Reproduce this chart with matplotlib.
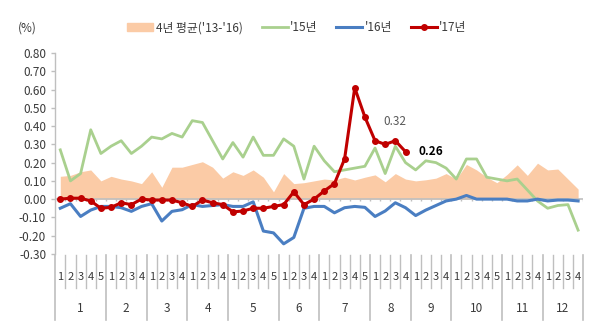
import matplotlib
matplotlib.use("Agg")
import matplotlib.pyplot as plt
from matplotlib.patches import Patch
from matplotlib.lines import Line2D
import numpy as np

plt.rcParams['font.family'] = ['Noto Sans CJK KR', 'DejaVu Sans']

months = ['1', '2', '3', '4', '5', '6', '7', '8', '9', '10', '11', '12']
weeks_per_month = [5, 4, 4, 4, 5, 4, 5, 4, 4, 5, 4, 4]
y_ticks = [0.80, 0.70, 0.60, 0.50, 0.40, 0.30, 0.20, 0.10, 0.00, -0.10, -0.20, -0.30]

avg_4yr = [0.125, 0.13, 0.15, 0.16, 0.10, 0.125, 0.11, 0.10, 0.085, 0.15, 0.065, 0.175, 0.175,
           0.19, 0.205, 0.175, 0.115, 0.15, 0.13, 0.16, 0.12, 0.04, 0.14, 0.085, 0.09, 0.10,
           0.11, 0.105, 0.12, 0.105, 0.12, 0.133, 0.095, 0.14, 0.11, 0.10, 0.106, 0.115, 0.14,
           0.11, 0.19, 0.16, 0.12, 0.09, 0.135, 0.188, 0.13, 0.197, 0.16, 0.165, 0.11, 0.055]
y15 = [0.27, 0.10, 0.14, 0.38, 0.25, 0.29, 0.32, 0.25, 0.29, 0.34, 0.33, 0.36, 0.34,
       0.43, 0.42, 0.32, 0.22, 0.31, 0.23, 0.34, 0.24, 0.24, 0.33, 0.29, 0.11, 0.29,
       0.21, 0.15, 0.16, 0.17, 0.18, 0.28, 0.14, 0.29, 0.20, 0.16, 0.21, 0.20, 0.17,
       0.11, 0.22, 0.22, 0.12, 0.11, 0.10, 0.11, 0.05, -0.01, -0.05, -0.035, -0.03, -0.17]
y16 = [-0.05, -0.025, -0.095, -0.06, -0.04, -0.04, -0.047, -0.067, -0.04, -0.025, -0.12, -0.067, -0.058,
       -0.03, -0.04, -0.035, -0.03, -0.04, -0.04, -0.015, -0.175, -0.185, -0.245, -0.21, -0.05, -0.04,
       -0.04, -0.075, -0.047, -0.04, -0.045, -0.095, -0.065, -0.02, -0.047, -0.09, -0.06, -0.035, -0.01,
       0.0, 0.02, 0.0, 0.0, 0.0, 0.0, -0.01, -0.01, 0.0, -0.01, -0.005, -0.005, -0.01]
y17 = [0.0, 0.005, 0.005, -0.01, -0.05, -0.045, -0.02, -0.03, 0.0, -0.005, -0.005, -0.005, -0.02,
       -0.04, -0.005, -0.02, -0.03, -0.07, -0.065, -0.05, -0.05, -0.04, -0.03, 0.04, -0.03, 0.0,
       0.045, 0.085, 0.22, 0.61, 0.45, 0.32, 0.30, 0.32, 0.26]

x = np.arange(len(avg_4yr))
x17 = np.arange(len(y17))

fig = plt.figure(figsize=(6.0, 3.28), dpi=100)
ax = fig.add_axes([0.092, 0.226, 0.880, 0.612])

txt = '#3A3A3A'
grey = '#BFBFBF'

ax.fill_between(x, 0, avg_4yr, color='#FBCBA6', lw=0, zorder=1)
ax.axhline(0, color=grey, lw=1.2, zorder=2)
ax.vlines(np.arange(len(x) + 1) - 0.5, -0.012, 0, color=grey, lw=1, zorder=2)
ax.plot(x, y15, color='#A9D08E', lw=2, zorder=3)
ax.plot(x, y16, color='#4A7EC2', lw=2.2, zorder=4)
ax.plot(x17, y17, color='#C00000', lw=2.2, marker='o', ms=4, zorder=5)

ax.annotate('0.32', (x17[33], y17[33]), xytext=(0, 9), textcoords='offset points',
            ha='center', va='bottom', fontsize=8.5, color='#595959')
ax.annotate('0.26', (x17[34], y17[34]), xytext=(9, 0), textcoords='offset points',
            ha='left', va='center', fontsize=8.5, color='black', fontweight='bold')

ax.set_xlim(-0.5, len(x) - 0.5)
ax.set_ylim(-0.30, 0.80)
ax.set_yticks(y_ticks)
ax.set_yticklabels(['%.2f' % v for v in y_ticks])
ax.tick_params(axis='y', colors=grey, labelcolor=txt, labelsize=8.5, length=3, width=1)
ax.set_xticks([])
for s in ['top', 'right', 'bottom']:
    ax.spines[s].set_visible(False)
ax.spines['left'].set_color(grey)
ax.spines['left'].set_linewidth(1)

# multi-level category labels
trans = ax.get_xaxis_transform()
pos = 0
for m, n in zip(months, weeks_per_month):
    ax.plot([pos - 0.5, pos - 0.5], [-0.005, -0.33], color=grey, lw=1.2, transform=trans, clip_on=False)
    for w in range(n):
        if w > 0:
            ax.plot([pos + w - 0.5] * 2, [-0.005, -0.17], color=grey, lw=1, transform=trans, clip_on=False)
        ax.text(pos + w, -0.115, str(w + 1), ha='center', va='center', fontsize=8, color=txt,
                transform=trans)
    ax.text(pos + (n - 1) / 2, -0.27, m, ha='center', va='center', fontsize=8.5, color=txt,
            transform=trans)
    pos += n
ax.plot([pos - 0.5, pos - 0.5], [-0.005, -0.33], color=grey, lw=1.2, transform=trans, clip_on=False)

fig.text(0.045, 0.915, '(%)', ha='center', va='center', fontsize=8.5, color=txt)

handles = [Patch(color='#FBCBA6'),
           Line2D([], [], color='#A9D08E', lw=2),
           Line2D([], [], color='#4A7EC2', lw=2.2),
           Line2D([], [], color='#C00000', lw=2.2, marker='o', ms=4)]
labels = ["4년 평균('13-'16)", "'15년", "'16년", "'17년"]
fig.legend(handles, labels, loc='center', bbox_to_anchor=(0.495, 0.915), ncol=4, frameon=False,
           fontsize=8.5, labelcolor=txt, handlelength=2.2, handletextpad=0.2, columnspacing=1.6)

fig.savefig('out.png', dpi=100)
